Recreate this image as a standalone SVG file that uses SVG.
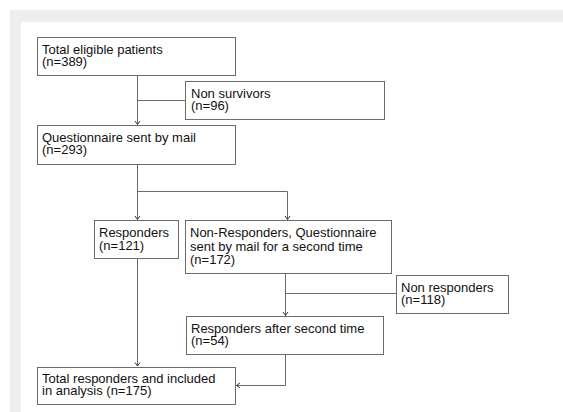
<svg xmlns="http://www.w3.org/2000/svg" width="563" height="412" viewBox="0 0 563 412">
<style>
.box{fill:#fff;stroke:#6b6b6b;stroke-width:1}
.t{font-family:"Liberation Sans",Arial,Helvetica,sans-serif;font-size:13px;fill:#111}
.ln{fill:none;stroke:#6b6b6b;stroke-width:1}
</style>
<defs>
<marker id="ah" markerUnits="userSpaceOnUse" markerWidth="8" markerHeight="8" viewBox="-5 -4 8 8" refX="0" refY="0" orient="auto">
<path d="M-3.5,-2.5 L0,0 L-3.5,2.5" fill="none" stroke="#333" stroke-width="1"/>
</marker>
</defs>
<rect x="0" y="0" width="563" height="412" fill="#fff"/>
<rect x="10" y="10" width="553" height="402" fill="#eeeeee"/>
<rect x="21" y="22" width="542" height="390" fill="#fff"/>
<g id="connectors">
<path class="ln" d="M137.5,76 V124.5" marker-end="url(#ah)"/>
<path class="ln" d="M137.5,100.5 H185"/>
<path class="ln" d="M137.5,165 V219.5" marker-end="url(#ah)"/>
<path class="ln" d="M137.5,191.5 H287.5 V219.5" marker-end="url(#ah)"/>
<path class="ln" d="M137.5,259 V366" marker-end="url(#ah)"/>
<path class="ln" d="M285.5,274 V315.5" marker-end="url(#ah)"/>
<path class="ln" d="M285.5,293.5 H396"/>
<path class="ln" d="M285.5,355 V385.5 H236.5" marker-end="url(#ah)"/>
</g>
<g id="n1"><rect class="box" x="37.5" y="37.5" width="198" height="38"/>
<text class="t" x="42" y="54">Total eligible patients</text><text class="t" x="42" y="66">(n=389)</text></g>
<g id="n2"><rect class="box" x="185.5" y="81.5" width="199" height="38"/>
<text class="t" x="191" y="98">Non survivors</text><text class="t" x="191" y="110">(n=96)</text></g>
<g id="n3"><rect class="box" x="37.5" y="125.5" width="198" height="39"/>
<text class="t" x="42" y="142">Questionnaire sent by mail</text><text class="t" x="42" y="154">(n=293)</text></g>
<g id="n4"><rect class="box" x="94.5" y="220.5" width="84" height="38"/>
<text class="t" x="99" y="237">Responders</text><text class="t" x="99" y="250">(n=121)</text></g>
<g id="n5"><rect class="box" x="185.5" y="220.5" width="206" height="53"/>
<text class="t" x="190" y="237">Non-Responders, Questionnaire</text><text class="t" x="190" y="251">sent by mail for a second time</text><text class="t" x="190" y="264">(n=172)</text></g>
<g id="n6"><rect class="box" x="396.5" y="275.5" width="112" height="38"/>
<text class="t" x="401" y="292">Non responders</text><text class="t" x="401" y="304">(n=118)</text></g>
<g id="n7"><rect class="box" x="186.5" y="316.5" width="197" height="38"/>
<text class="t" x="191" y="333">Responders after second time</text><text class="t" x="191" y="345">(n=54)</text></g>
<g id="n8"><rect class="box" x="37.5" y="367.5" width="198" height="37"/>
<text class="t" x="42" y="383">Total responders and included</text><text class="t" x="42" y="395">in analysis (n=175)</text></g>
</svg>
